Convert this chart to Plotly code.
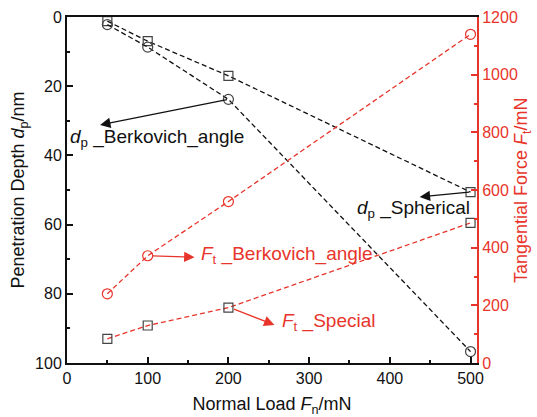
import plotly.graph_objects as go

# Data
normal_load = [50, 100, 200, 500]
dp_spherical = [1.2, 7.0, 17.0, 50.6]
dp_berkovich = [2.2, 8.7, 23.8, 96.7]
ft_berkovich = [240, 372, 560, 1140]
ft_special = [84, 130, 192, 486]

BLACK = "#111111"
RED = "#e8352b"
GREY = "#444444"
FONT = "Liberation Sans, Arial, sans-serif"
DASH = "5px,3px"

fig = go.Figure()

fig.add_trace(go.Scatter(
    x=normal_load, y=dp_spherical, mode="lines+markers",
    line=dict(color=BLACK, width=1.3, dash=DASH),
    marker=dict(symbol="square-open", size=9, color=GREY, line=dict(width=1.2)),
    yaxis="y"))
fig.add_trace(go.Scatter(
    x=normal_load, y=dp_berkovich, mode="lines+markers",
    line=dict(color=BLACK, width=1.3, dash=DASH),
    marker=dict(symbol="circle-open", size=10, color=GREY, line=dict(width=1.2)),
    yaxis="y"))
fig.add_trace(go.Scatter(
    x=normal_load, y=ft_berkovich, mode="lines+markers",
    line=dict(color=RED, width=1.3, dash=DASH),
    marker=dict(symbol="circle-open", size=10, color=RED, line=dict(width=1.2)),
    yaxis="y2"))
fig.add_trace(go.Scatter(
    x=normal_load, y=ft_special, mode="lines+markers",
    line=dict(color=RED, width=1.3, dash=DASH),
    marker=dict(symbol="square-open", size=9, color=GREY, line=dict(width=1.2)),
    yaxis="y2"))

# arrows (head at label, tail at data point)
arrows = [
    dict(x=41, y=31.2, ax=200, ay=23.8, yref="y", ayref="y", color=BLACK),
    dict(x=437, y=52.0, ax=500, ay=50.6, yref="y", ayref="y", color=BLACK),
    dict(x=158, y=367, ax=104, ay=372, yref="y2", ayref="y2", color=RED),
    dict(x=257, y=132, ax=205, ay=189, yref="y2", ayref="y2", color=RED),
]
for a in arrows:
    fig.add_annotation(x=a["x"], y=a["y"], ax=a["ax"], ay=a["ay"], xref="x", yref=a["yref"],
                       axref="x", ayref=a["ayref"], text="", showarrow=True,
                       arrowhead=2, arrowsize=1.6, arrowwidth=1.3, arrowcolor=a["color"])

labels = [
    dict(x=1.2, y=35.0, yref="y", text="<i>d</i><sub>p</sub> _Berkovich_angle", color=BLACK),
    dict(x=357, y=55.4, yref="y", text="<i>d</i><sub>p</sub> _Spherical", color=BLACK),
    dict(x=164, y=375, yref="y2", text="<i>F</i><sub>t</sub> _Berkovich_angle", color=RED),
    dict(x=264, y=143, yref="y2", text="<i>F</i><sub>t</sub> _Special", color=RED),
]
for l in labels:
    fig.add_annotation(x=l["x"], y=l["y"], xref="x", yref=l["yref"], text=l["text"],
                       showarrow=False, xanchor="left", yanchor="middle",
                       font=dict(family=FONT, size=19, color=l["color"]))

# right axis title as rotated annotation
fig.add_annotation(x=1.11, y=0.5, xref="paper", yref="paper",
                   text="Tangential Force <i>F</i><sub>t</sub>/mN", textangle=-90,
                   showarrow=False, xanchor="center", yanchor="middle",
                   font=dict(family=FONT, size=18, color=RED))

fig.update_layout(
    width=537, height=417,
    margin=dict(l=67, r=60, t=17, b=54),
    plot_bgcolor="white", paper_bgcolor="white",
    showlegend=False,
    font=dict(family=FONT, size=16, color=BLACK),
    xaxis=dict(
        range=[0, 508], tickvals=[0, 100, 200, 300, 400, 500], automargin=False,
        showgrid=False, zeroline=False, showline=True, linecolor=BLACK, linewidth=2,
        mirror=True, ticks="inside", ticklen=6, tickwidth=1.5, tickcolor=BLACK,
        minor=dict(tickvals=[50, 150, 250, 350, 450], ticks="inside", ticklen=3, tickcolor=BLACK),
        title=dict(text="Normal Load <i>F</i><sub>n</sub>/mN", font=dict(size=18), standoff=14),
        tickfont=dict(size=16),
    ),
    yaxis=dict(
        range=[100, 0], tickvals=[0, 20, 40, 60, 80, 100], automargin=False,
        showgrid=False, zeroline=False, showline=True, linecolor=BLACK, linewidth=2,
        ticks="inside", ticklen=6, tickwidth=1.5, tickcolor=BLACK,
        minor=dict(tickvals=[10, 30, 50, 70, 90], ticks="inside", ticklen=3, tickcolor=BLACK),
        title=dict(text="Penetration Depth <i>d</i><sub>p</sub>/nm", font=dict(size=18), standoff=6),
        tickfont=dict(size=16),
    ),
    yaxis2=dict(
        overlaying="y", side="right", anchor="x", automargin=False,
        range=[0, 1200], tickvals=[0, 200, 400, 600, 800, 1000, 1200],
        showgrid=False, zeroline=False, showline=True, linecolor=RED, linewidth=2,
        ticks="inside", ticklen=6, tickwidth=1.5, tickcolor=RED,
        minor=dict(tickvals=[100, 300, 500, 700, 900, 1100], ticks="inside", ticklen=3, tickcolor=RED),
        tickfont=dict(size=16, color=RED),
    ),
)

fig.write_html("out.html")
